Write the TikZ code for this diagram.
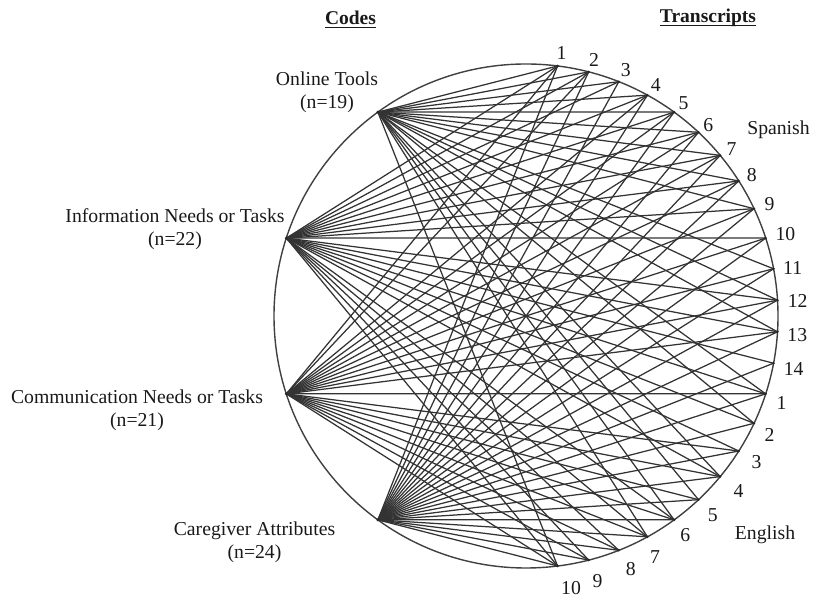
\documentclass[tikz,border=0pt]{standalone}
\usepackage{fontspec}
\setmainfont{Liberation Serif}
\begin{document}
\begin{tikzpicture}[x=1pt,y=1pt,
  conn/.style={draw=black!80, line width=1.25pt},
  txt/.style={font=\fontsize{19.7}{23}\selectfont, inner sep=0pt, align=center, text=black!90},
  hdr/.style={font=\fontsize{19.5}{23}\selectfont\bfseries, inner sep=0pt, text=black!90},
  uline/.style={draw=black!90, line width=1.2pt},
  dotmark/.style={fill=black!85, draw=none}]
\useasboundingbox (0,0) rectangle (816,601);
\coordinate (C) at (526,285);
% code points
\foreach \a/\n in {126/ot,162/info,198/comm,234/ca}
  \path (C) ++(\a:252) coordinate (\n);
% transcript points
\foreach \k in {0,...,23}{
  \pgfmathsetmacro\ang{82.8-7.2*\k}
  \path (C) ++(\ang:252) coordinate (t\k);
}
% circle
\draw[black!75, line width=1.4pt] (C) circle (252);
% connectors
\foreach \k in {0,...,8,10,11,12,14,15,17,18,19,20,23}
  \draw[conn] (ot) -- (t\k);
\foreach \k in {0,...,9,11,12,13,14,15,16,17,19,20,21,22,23}
  \draw[conn] (info) -- (t\k);
\foreach \k in {0,1,3,4,5,6,7,8,9,10,11,12,14,16,17,18,19,20,21,22,23}
  \draw[conn] (comm) -- (t\k);
\foreach \k in {0,...,23}
  \draw[conn] (ca) -- (t\k);
% dots
\foreach \n in {ot,info,comm,ca} \fill[dotmark] (\n) circle (1.6);
\foreach \k in {0,...,23} \fill[dotmark] (t\k) circle (1.4);
% transcript labels, Spanish
\foreach \k/\t/\r in {0/1/265,1/2/265,2/3/265,3/4/265,4/5/265,5/6/264,6/7/265,7/8/266,8/9/268,
                      9/10/272,10/11/271,11/12/272,12/13/272,13/14/273}{
  \pgfmathsetmacro\ang{82.8-7.2*\k-0.5}
  \path (C) ++(\ang:\r) node[txt] (s\k) {\t};
}
% transcript labels, English
\foreach \k/\t/\r/\d in {14/1/270/-0.8,15/2/271/-0.8,16/3/273/0,17/4/275/0.2,18/5/273/0,19/6/271/0,
                         20/7/273/-0.6,21/8/274/0.9,22/9/275/0.7,23/10/276/2.2}{
  \pgfmathsetmacro\ang{82.8-7.2*\k+\d}
  \path (C) ++(\ang:\r) node[txt] (e\k) {\t};
}
% group labels
\node[txt] (spanish) at (778.5,471) {Spanish};
\node[txt] (english) at (765,66) {English};
% code labels
\node[txt] (otl) at (327,508.5) {Online Tools\\(n=19)};
\node[txt] (infol) at (175,372) {Information Needs or Tasks\\(n=22)};
\node[txt] (comml) at (137,191) {Communication Needs or Tasks\\(n=21)};
\node[txt] (cal) at (254.5,59) {Caregiver Attributes\\(n=24)};
% headers
\node[hdr] (codes) at (350.5,583) {Codes};
\node[hdr] (trans) at (708,583) {Transcripts};
\draw[uline] ([yshift=-2.8pt]codes.base west) -- ([yshift=-2.8pt]codes.base east);
\draw[uline] ([yshift=-2.8pt]trans.base west) -- ([yshift=-2.8pt]trans.base east);
\end{tikzpicture}
\end{document}
